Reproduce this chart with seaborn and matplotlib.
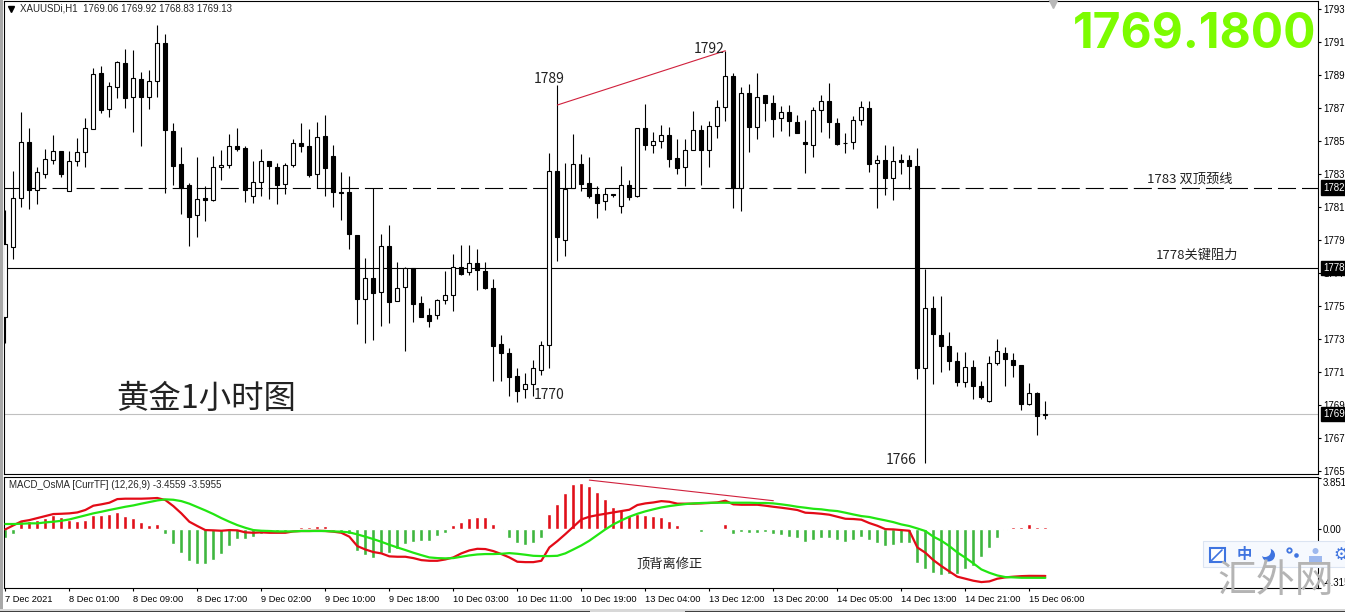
#!/usr/bin/env python3
"""XAUUSD H1 chart with MACD/OsMA pane, MT4 screenshot look."""

import numpy as np
import matplotlib
matplotlib.use('Agg')
import matplotlib.pyplot as plt
import seaborn as sns
from matplotlib.patches import Rectangle, Circle

W, H = 1345, 612

# candles
highs = [
    1781.50, 1783.86, 1787.44, 1786.47, 1784.09, 1785.19, 1786.04, 1785.05, 1785.05, 1785.84,
    1787.07, 1790.08, 1790.21, 1789.24, 1790.51, 1791.24, 1791.18, 1789.84, 1789.96, 1792.71,
    1792.16, 1786.75, 1785.32, 1783.12, 1784.69, 1782.93, 1784.75, 1785.13, 1786.09, 1786.45,
    1785.38, 1784.45, 1785.19, 1784.45, 1784.33, 1784.33, 1785.78, 1786.77, 1786.39, 1786.81,
    1787.24, 1785.42, 1783.80, 1783.56, 1779.98, 1778.57, 1782.81, 1780.03, 1780.59, 1778.33,
    1778.03, 1777.96, 1776.27, 1775.54, 1776.09, 1777.80, 1778.81, 1779.36, 1779.36, 1779.12,
    1778.33, 1777.30, 1773.90, 1773.12, 1771.90, 1771.60, 1772.39, 1773.54, 1784.93, 1789.07,
    1784.33, 1786.09, 1784.87, 1784.69, 1782.93, 1782.81, 1782.47, 1784.15, 1783.30, 1786.49,
    1787.90, 1786.21, 1786.63, 1786.51, 1785.78, 1785.78, 1787.50, 1786.63, 1786.87, 1788.15,
    1791.15, 1789.78, 1788.93, 1789.12, 1789.78, 1788.45, 1788.45, 1787.78, 1787.84, 1787.24,
    1786.93, 1787.72, 1788.45, 1789.18, 1787.06, 1786.15, 1787.18, 1788.09, 1788.09, 1784.81,
    1785.42, 1785.36, 1784.87, 1784.81, 1785.26, 1777.94, 1776.27, 1776.27, 1774.09, 1772.87,
    1772.87, 1772.39, 1771.15, 1772.63, 1773.66, 1773.18, 1772.81, 1772.09, 1770.99, 1770.49,
    1769.92,
]
lows = [
    1773.44, 1778.53, 1781.70, 1781.56, 1781.86, 1783.46, 1784.29, 1783.52, 1782.63, 1784.18,
    1784.12, 1786.39, 1787.40, 1787.15, 1788.30, 1787.70, 1786.23, 1785.38, 1787.64, 1788.33,
    1782.51, 1783.01, 1781.26, 1779.33, 1779.88, 1780.85, 1782.04, 1783.32, 1784.06, 1785.09,
    1782.00, 1781.94, 1782.37, 1782.16, 1781.88, 1782.49, 1784.12, 1785.03, 1783.52, 1782.81,
    1782.37, 1781.66, 1780.91, 1779.15, 1774.61, 1773.46, 1773.62, 1774.49, 1774.67, 1775.96,
    1772.97, 1774.73, 1775.03, 1774.43, 1774.91, 1775.82, 1775.40, 1777.54, 1777.54, 1776.67,
    1776.73, 1771.13, 1771.15, 1770.24, 1769.88, 1770.12, 1770.24, 1771.48, 1771.94, 1778.41,
    1778.73, 1782.81, 1782.63, 1782.21, 1781.03, 1781.52, 1782.30, 1781.33, 1782.12, 1782.27,
    1785.13, 1784.97, 1785.27, 1784.12, 1783.70, 1782.97, 1785.12, 1783.03, 1784.09, 1785.88,
    1786.91, 1781.63, 1781.46, 1785.03, 1785.78, 1786.87, 1785.94, 1786.30, 1786.00, 1786.15,
    1783.76, 1784.73, 1786.24, 1785.84, 1785.46, 1784.97, 1785.21, 1786.65, 1783.82, 1781.64,
    1782.42, 1782.12, 1783.70, 1782.75, 1771.27, 1766.18, 1770.97, 1771.70, 1771.82, 1770.85,
    1770.79, 1770.06, 1770.06, 1769.88, 1772.12, 1770.85, 1771.39, 1769.39, 1769.70, 1767.88,
    1768.83,
]
opens = [
    1775.01, 1779.27, 1782.21, 1785.60, 1782.73, 1783.70, 1784.51, 1785.05, 1782.63, 1784.45,
    1784.99, 1786.39, 1789.78, 1787.60, 1788.93, 1790.39, 1788.33, 1789.42, 1788.33, 1789.30,
    1791.60, 1786.27, 1784.27, 1783.00, 1781.18, 1782.21, 1782.12, 1784.09, 1784.21, 1785.36,
    1785.24, 1782.33, 1783.18, 1784.45, 1784.09, 1783.06, 1784.21, 1785.54, 1785.36, 1783.66,
    1785.96, 1784.75, 1782.57, 1782.57, 1779.98, 1776.09, 1777.36, 1776.51, 1779.30, 1775.96,
    1776.81, 1777.96, 1775.84, 1775.12, 1775.12, 1776.03, 1776.33, 1778.02, 1777.72, 1778.27,
    1777.78, 1776.75, 1773.36, 1772.81, 1771.42, 1770.63, 1770.93, 1771.78, 1773.30, 1783.84,
    1779.66, 1782.81, 1784.27, 1783.12, 1782.45, 1782.03, 1782.45, 1781.72, 1783.00, 1782.33,
    1786.45, 1785.46, 1785.66, 1786.03, 1784.63, 1784.09, 1785.12, 1786.33, 1785.12, 1786.57,
    1787.72, 1789.60, 1782.81, 1788.57, 1786.51, 1788.45, 1787.96, 1787.06, 1787.42, 1786.81,
    1785.60, 1785.42, 1787.54, 1788.09, 1786.75, 1785.53, 1785.60, 1786.93, 1787.66, 1784.33,
    1784.51, 1783.42, 1784.51, 1784.51, 1784.15, 1771.90, 1775.54, 1773.90, 1773.24, 1772.33,
    1771.09, 1771.97, 1770.85, 1769.94, 1772.21, 1772.81, 1772.39, 1772.09, 1769.76, 1770.43,
    1769.06,
]
closes = [
    1779.44, 1782.21, 1785.60, 1782.73, 1783.78, 1784.57, 1785.05, 1783.70, 1784.45, 1784.99,
    1786.45, 1789.72, 1787.58, 1788.99, 1790.45, 1788.30, 1789.48, 1788.33, 1789.30, 1791.60,
    1786.33, 1784.18, 1782.81, 1781.09, 1782.15, 1782.12, 1784.09, 1784.21, 1785.36, 1785.21,
    1782.69, 1783.18, 1784.45, 1784.15, 1783.03, 1784.21, 1785.54, 1785.36, 1783.62, 1785.90,
    1784.06, 1782.57, 1782.54, 1780.03, 1776.09, 1777.36, 1776.45, 1779.30, 1775.94, 1776.75,
    1777.96, 1775.78, 1775.03, 1774.79, 1776.03, 1776.33, 1778.02, 1777.60, 1778.27, 1777.84,
    1776.77, 1773.27, 1772.81, 1771.39, 1770.55, 1770.93, 1771.90, 1773.30, 1783.84, 1779.84,
    1782.75, 1784.27, 1783.09, 1782.35, 1781.94, 1782.45, 1782.39, 1783.00, 1782.30, 1786.45,
    1785.46, 1785.66, 1786.03, 1784.61, 1784.06, 1785.12, 1786.33, 1785.12, 1786.57, 1787.72,
    1789.60, 1782.81, 1788.57, 1786.51, 1788.33, 1787.96, 1787.03, 1787.42, 1786.87, 1786.18,
    1785.48, 1787.54, 1788.09, 1786.81, 1785.50, 1785.54, 1786.93, 1787.72, 1784.30, 1784.51,
    1783.42, 1784.45, 1784.43, 1784.15, 1771.92, 1775.54, 1773.96, 1773.24, 1772.33, 1771.09,
    1771.97, 1770.85, 1770.18, 1772.21, 1772.93, 1772.45, 1772.09, 1769.76, 1770.43, 1769.03,
    1769.13,
]

# MACD pane
osma = [
    -0.64, -0.35, 0.59, 0.62, 0.72, 0.84, 1.04, 0.89, 0.67, 0.62,
    0.67, 1.09, 1.06, 1.11, 1.26, 0.97, 0.82, 0.52, 0.32, 0.37,
    -0.37, -1.11, -1.78, -2.38, -2.60, -2.60, -2.30, -1.86, -1.26, -0.74,
    -0.74, -0.57, -0.32, -0.20, -0.25, -0.20, 0.05, 0.20, 0.17, 0.25,
    0.22, -0.15, -0.25, -0.37, -1.63, -1.93, -2.15, -1.76, -1.76, -1.44,
    -1.11, -0.97, -0.87, -0.84, -0.52, -0.30, 0.30, 0.52, 0.82, 0.89,
    0.89, 0.37, -0.07, -0.67, -1.01, -1.19, -1.01, -0.67, 1.16, 1.86,
    2.70, 3.34, 3.42, 3.19, 2.75, 2.23, 1.63, 1.41, 1.04, 1.16,
    1.04, 0.97, 0.89, 0.59, 0.30, 0.05, 0.03, -0.17, 0.03, 0.05,
    0.37, -0.35, -0.17, -0.25, -0.25, -0.17, -0.35, -0.42, -0.57, -0.64,
    -0.97, -0.79, -0.67, -0.67, -0.79, -0.97, -0.79, -0.57, -0.79, -1.01,
    -1.26, -1.16, -1.01, -1.01, -2.50, -2.95, -3.24, -3.42, -3.34, -3.34,
    -2.97, -2.70, -2.05, -1.41, -0.67, -0.07, 0.17, 0.17, 0.37, 0.17,
    0.17,
]
macd_line = [
    0.00, 0.30, 0.59, 0.69, 0.84, 0.99, 1.14, 1.16, 1.19, 1.26,
    1.44, 1.76, 1.86, 1.98, 2.25, 2.28, 2.28, 2.28, 2.30, 2.33,
    2.18, 1.73, 1.19, 0.57, 0.25, -0.05, -0.07, -0.10, -0.05, -0.07,
    -0.22, -0.25, -0.22, -0.25, -0.25, -0.25, -0.15, -0.12, -0.12, -0.10,
    -0.12, -0.17, -0.25, -0.54, -1.24, -1.49, -1.68, -1.78, -2.00, -2.03,
    -2.03, -2.13, -2.28, -2.33, -2.33, -2.23, -2.08, -1.78, -1.56, -1.44,
    -1.46, -1.61, -1.83, -2.08, -2.40, -2.43, -2.43, -2.33, -1.34, -0.87,
    -0.35, 0.20, 0.74, 0.94, 1.06, 1.16, 1.26, 1.36, 1.46, 1.81,
    1.93, 2.00, 2.10, 2.05, 1.91, 1.91, 1.91, 1.93, 1.96, 2.00,
    2.13, 1.86, 1.83, 1.83, 1.83, 1.76, 1.68, 1.61, 1.53, 1.44,
    1.24, 1.21, 1.16, 1.09, 0.94, 0.79, 0.77, 0.72, 0.47, 0.27,
    0.02, 0.00, -0.05, -0.10, -1.34, -1.73, -2.28, -2.72, -3.12, -3.51,
    -3.66, -3.81, -3.91, -3.86, -3.66, -3.56, -3.51, -3.47, -3.45, -3.45,
    -3.4559,
]
signal_line = [
    0.40, 0.40, 0.42, 0.45, 0.45, 0.52, 0.57, 0.64, 0.74, 0.89,
    1.04, 1.19, 1.31, 1.44, 1.56, 1.68, 1.78, 1.91, 2.03, 2.15,
    2.23, 2.20, 2.10, 1.91, 1.66, 1.41, 1.14, 0.84, 0.57, 0.32,
    0.12, -0.05, -0.10, -0.12, -0.15, -0.15, -0.15, -0.12, -0.12, -0.12,
    -0.12, -0.15, -0.17, -0.22, -0.37, -0.54, -0.72, -0.92, -1.14, -1.34,
    -1.53, -1.73, -1.91, -2.08, -2.13, -2.15, -2.13, -2.03, -1.93, -1.86,
    -1.83, -1.83, -1.81, -1.76, -1.81, -1.88, -1.96, -1.98, -1.98, -1.96,
    -1.78, -1.49, -1.19, -0.84, -0.42, 0.00, 0.37, 0.67, 0.94, 1.16,
    1.34, 1.49, 1.63, 1.73, 1.81, 1.88, 1.93, 1.96, 1.98, 1.98,
    1.98, 1.98, 1.98, 1.98, 1.96, 1.96, 1.93, 1.86, 1.78, 1.68,
    1.61, 1.53, 1.49, 1.41, 1.36, 1.24, 1.11, 0.99, 0.92, 0.79,
    0.67, 0.54, 0.37, 0.25, 0.07, -0.12, -0.54, -0.84, -1.24, -1.71,
    -2.10, -2.52, -2.97, -3.22, -3.42, -3.54, -3.56, -3.59, -3.59, -3.59,
    -3.5955,
]

# axis labels and levels
price_ticks = [1793.68 - 2 * k for k in range(15)]
price_tick_labels = ['1793', '1791', '1789', '1787', '1785', '1783', '1781', '1779',
                     '1777', '1775', '1773', '1771', '1769', '1767', '1765']
macd_ticks = [3.851, 0.0, -4.315]
macd_tick_labels = ['3.851', '0.00', '-4.315']
time_labels = ['7 Dec 2021', '8 Dec 01:00', '8 Dec 09:00', '8 Dec 17:00', '9 Dec 02:00',
               '9 Dec 10:00', '9 Dec 18:00', '10 Dec 03:00', '10 Dec 11:00', '10 Dec 19:00',
               '13 Dec 04:00', '13 Dec 12:00', '13 Dec 20:00', '14 Dec 05:00', '14 Dec 13:00',
               '14 Dec 21:00', '15 Dec 06:00']
neckline = 1782.86
resistance = 1777.98
bid = 1769.13
price_trend_x = [69, 90]
price_trend_y = [1787.86, 1791.15]
macd_trend_x = [73, 96]
macd_trend_y = [3.66, 2.13]

CJK = ['Noto Sans CJK SC', 'DejaVu Sans']
UI_FONT = ['Liberation Sans', 'DejaVu Sans']
UI_SIZE = 7

sns.set_theme(style='white', rc={'axes.edgecolor': 'black', 'axes.linewidth': 0.8,
                                 'lines.scale_dashes': False})
plt.rcParams['font.family'] = UI_FONT

fig = plt.figure(figsize=(W / 100, H / 100), dpi=100, facecolor='white')


def pane(left, top, right, bottom):
    """Axes placed by pixel edges."""
    return fig.add_axes([left / W, 1 - bottom / H, (right - left) / W, (bottom - top) / H])


ax = pane(4, 1, 1318, 474)
ax_macd = pane(4, 476.5, 1318, 588)

bars = np.arange(len(closes))
xlim = (-0.166, 164.08)

# price pane
o, c = np.array(opens), np.array(closes)
is_up = c > o
ax.axhline(neckline, color='black', lw=0.8, ls=(0, (13, 4.3)), zorder=2)
ax.axhline(resistance, color='black', lw=0.8, zorder=2)
ax.axhline(bid, color='#c0c0c0', lw=0.8, zorder=2)
ax.vlines(bars, lows, highs, color='black', lw=0.8, zorder=3)
ax.bar(bars, np.maximum(np.abs(c - o), 0.01), bottom=np.minimum(o, c), width=0.5,
       color=np.where(is_up, 'white', 'black'), edgecolor='black', linewidth=0.8, zorder=4)
sns.lineplot(x=price_trend_x, y=price_trend_y, color='#d0203c', lw=0.8, ax=ax, zorder=5)
ax.plot([131], [1794.05], marker='v', ms=7, color='#b8b8b8', clip_on=False, zorder=5)
ax.set_xlim(xlim)
ax.set_ylim(1765.498, 1794.164)
ax.set_xticks([])
ax.yaxis.tick_right()
ax.set_yticks(price_ticks, price_tick_labels)
ax.tick_params(axis='y', length=2.2, width=0.8, pad=1.4, labelsize=UI_SIZE, colors='black')
for level, label in [(neckline, '1782'), (resistance, '1778'), (bid, '1769')]:
    ax.text(1.0042, level, label, transform=ax.get_yaxis_transform(), color='white',
            fontsize=UI_SIZE, va='center', ha='left', clip_on=False, zorder=6,
            bbox=dict(fc='black', ec='black', pad=1.6))

# MACD pane
hist = np.array(osma)
sns.barplot(x=bars, y=hist, hue=np.where(hist >= 0, 'up', 'down'),
            palette={'up': '#e0101a', 'down': '#3fb63f'}, native_scale=True, width=0.5,
            dodge=False, legend=False, saturation=1, ax=ax_macd, zorder=2)
sns.lineplot(x=bars, y=macd_line, color='#e30b17', lw=1.6, ax=ax_macd, zorder=3)
sns.lineplot(x=bars, y=signal_line, color='#22e612', lw=1.6, ax=ax_macd, zorder=4)
sns.lineplot(x=macd_trend_x, y=macd_trend_y, color='#d0203c', lw=0.8, ax=ax_macd, zorder=5)
ax_macd.set_xlim(xlim)
ax_macd.set_ylim(-4.35, 3.927)
ax_macd.set_xlabel('')
ax_macd.set_ylabel('')
ax_macd.yaxis.tick_right()
ax_macd.set_yticks(macd_ticks, macd_tick_labels)
ax_macd.tick_params(axis='y', length=2.2, width=0.8, pad=1.0, labelsize=UI_SIZE, colors='black')
labels = ax_macd.get_yticklabels()
labels[0].set_va('top')
labels[2].set_va('bottom')
ax_macd.set_xticks(bars[::8][:len(time_labels)], time_labels, ha='left')
ax_macd.tick_params(axis='x', bottom=True, length=2.2, width=0.8, pad=2.5, labelsize=6.7,
                    colors='black')

# everything else sits on a pixel-addressed overlay
top = fig.add_axes([0, 0, 1, 1], zorder=10)
top.set_xlim(0, W)
top.set_ylim(H, 0)
top.axis('off')
top.patch.set_alpha(0)

top.add_patch(Rectangle((0, 0), 2.5, 609, fc='#a8a8a8', ec='none'))
top.add_patch(Rectangle((0, 609), W, 3, fc='#d8d8d8', ec='none'))
top.add_patch(Rectangle((0, 610.5), 590, 1.5, fc='#404040', ec='none'))
top.add_patch(Rectangle((685, 610.5), W - 685, 1.5, fc='#404040', ec='none'))

top.plot([11], [9], marker='v', ms=4.5, color='black')
top.text(20, 8.5, 'XAUUSDi,H1  1769.06 1769.92 1768.83 1769.13', fontsize=UI_SIZE, va='center')
top.text(9, 485, 'MACD_OsMA [CurrTF] (12,26,9) -3.4559 -3.5955', fontsize=UI_SIZE, va='center')

label_color = '#222222'
for x, y, txt, size in [(549, 79, '1789', 10), (709, 49, '1792', 10), (549, 395, '1770', 10),
                        (901, 460, '1766', 10), (1189.5, 179, '1783 双顶颈线', 9.5),
                        (1197, 255, '1778关键阻力', 9.5), (206, 399, '黄金1小时图', 23.3),
                        (669.5, 564, '顶背离修正', 9.5)]:
    top.text(x, y, txt, fontsize=size, color=label_color, ha='center', va='center',
             family=CJK)

top.text(1316, 34, '1769.1800', fontsize=34.5, fontweight='bold', color='#7cfc00',
         ha='right', va='center', family=['Inter', 'Liberation Sans'])

# input-method toolbar and watermark from the screenshot
blue = '#3f74e0'
top.add_patch(Rectangle((1203, 541), 150, 26, fc='#f6f9fe', ec='#dbe4f2', lw=0.8))
top.add_patch(Rectangle((1210, 547.5), 14.5, 14.5, fc='white', ec=blue, lw=1.5))
top.plot([1211, 1222], [561, 550], color=blue, lw=1.2)
top.text(1244.5, 554.5, '中', fontsize=11, color=blue, ha='center', va='center',
         fontweight='bold', family=CJK)
top.add_patch(Circle((1268.5, 555), 6.5, fc=blue, ec='none'))
top.add_patch(Circle((1265, 551), 6, fc='#f6f9fe', ec='none'))
top.add_patch(Circle((1289.5, 550.5), 2.2, fc='white', ec=blue, lw=1.3))
top.add_patch(Circle((1296.5, 555.5), 2.3, fc=blue, ec='none'))
top.add_patch(Circle((1315.5, 551), 3, fc='#9db8ee', ec='none'))
top.add_patch(Rectangle((1309, 556), 13, 5.5, fc='#9db8ee', ec='none'))
top.text(1341, 554.5, '⚙', fontsize=12, color=blue, ha='center', va='center',
         family=['DejaVu Sans'], clip_on=True)
top.text(1276, 581, '汇外网', fontsize=28, color='#b4b4b4', ha='center', va='center',
         family=['Noto Sans CJK SC'])

fig.savefig('out.png', dpi=100)
